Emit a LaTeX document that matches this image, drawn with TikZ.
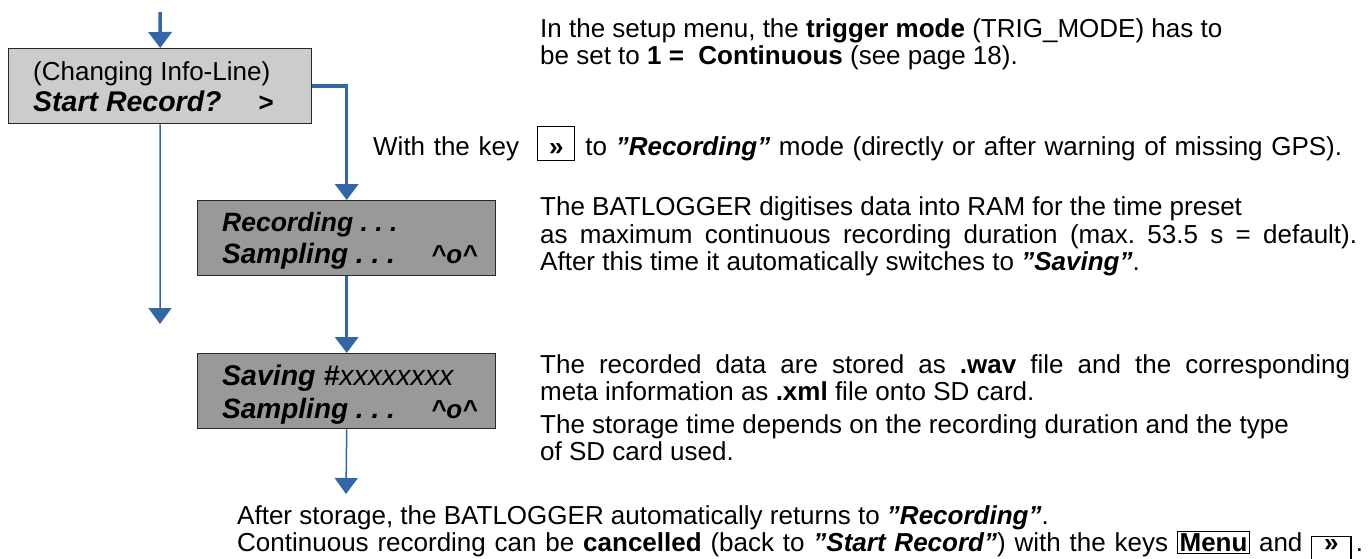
\documentclass[tikz,border=0pt]{standalone}
\usepackage{fontspec}
\setmainfont{Liberation Sans}
\usetikzlibrary{arrows.meta}
\definecolor{flowblue}{RGB}{52,101,164}
\definecolor{boxlight}{RGB}{204,204,204}
\definecolor{boxdark}{RGB}{153,153,153}
\definecolor{boxedge}{RGB}{40,40,40}
\newcommand\kbox[4]{{\setlength\fboxsep{0pt}\setlength\fboxrule{1.2pt}\fbox{\rule[-#2]{0pt}{\dimexpr#2+#3\relax}\makebox[#1]{\textbf{#4}}}}}
\frenchspacing
\begin{document}
\begin{tikzpicture}[x=1pt,y=-1pt,
  txt/.style={anchor=base west,inner sep=0pt,font=\fontsize{26}{27}\selectfont\frenchspacing},
  boxtxt/.style={anchor=base west,inner sep=0pt,font=\fontsize{#1}{27}\selectfont\bfseries\itshape},
  boxtxt/.default=28,
  screen/.style={draw=boxedge,line width=1.4pt,inner sep=0pt,anchor=north west,minimum width=#1,minimum height=75pt},
  thickflow/.style={draw=flowblue,line width=3.5pt,-{Triangle[length=16pt,width=23pt]}},
  thinflow/.style={draw=flowblue,line width=1.5pt,-{Triangle[length=16pt,width=23pt]}},
]
\useasboundingbox (0,0) rectangle (1370,558);

% screens
\node[screen=303pt,fill=boxlight] (b1) at (8,48) {};
\node[screen=298pt,fill=boxdark] (b2) at (197,200) {};
\node[screen=298pt,fill=boxdark] (b3) at (197,353) {};

% screen texts
\node[txt] (b1l1) at (33,80) {(Changing Info-Line)};
\node[boxtxt=28.5] (b1l2) at (33,111) {Start Record?};
\node[boxtxt=26] (b1gt) at (258,111) {>};
\node[boxtxt=26.5] (b2l1) at (222,231) {Recording . . .};
\node[boxtxt] (b2l2) at (222,263) {Sampling . . .};
\node[boxtxt=26] (b2sm) at (431,263) {\textasciicircum{}o\textasciicircum};
\node[boxtxt=28.5] (b3l1) at (222,385) {Saving \#\mdseries xxxxxxxx};
\node[boxtxt] (b3l2) at (222,418) {Sampling . . .};
\node[boxtxt=26] (b3sm) at (431,418) {\textasciicircum{}o\textasciicircum};

% connectors
\coordinate (in1) at (160,12);
\coordinate (out1) at (160,324);
\coordinate (out3) at (346,494);
\draw[thickflow] (in1) -- (b1.north);
\draw[thickflow] (b1.east) -| (b2.north);
\draw[thickflow] (b2.south) -- (b3.north);
\draw[thinflow] (b1.south) -- (out1);
\draw[thinflow] (b3.south) -- (out3);

% descriptive texts
\node[txt] (t1) at (540,37) {In the setup menu, the \textbf{trigger mode} (TRIG\_MODE) has to};
\node[txt] (t2) at (540,64) {be set to \textbf{1 =\ \ Continuous} (see page 18).};
\node[txt] (t3) at (373,155) {\makebox[969pt][s]{With the key\hspace{18pt}\kbox{36pt}{5pt}{28pt}{»}\hspace{10pt}to \textbf{\textit{”Recording”}} mode (directly or after warning of missing GPS).}};
\node[txt] (t4) at (540,215) {The BATLOGGER digitises data into RAM for the time preset};
\node[txt] (t5) at (540,243) {\makebox[817pt][s]{as maximum continuous recording duration (max. 53.5 s = default).}};
\node[txt] (t6) at (540,270) {After this time it automatically switches to \textbf{\textit{”Saving”}}.};
\node[txt] (t7) at (540,373) {\makebox[810pt][s]{The recorded data are stored as \textbf{.wav} file and the corresponding}};
\node[txt] (t8) at (540,400) {meta information as \textbf{.xml} file onto SD card.};
\node[txt] (t9) at (540,433) {The storage time depends on the recording duration and the type};
\node[txt] (t10) at (540,460) {of SD card used.};
\node[txt] (t11) at (237,524) {After storage, the BATLOGGER automatically returns to \textbf{\textit{”Recording”}}.};
\node[txt] (t12) at (237,551) {\makebox[1126pt][s]{Continuous recording can be \textbf{cancelled} (back to \textbf{\textit{”Start Record”}}) with the keys \kbox{71pt}{2pt}{19pt}{Menu} and \kbox{38pt}{9pt}{14pt}{»}\,.}};
\end{tikzpicture}
\end{document}
